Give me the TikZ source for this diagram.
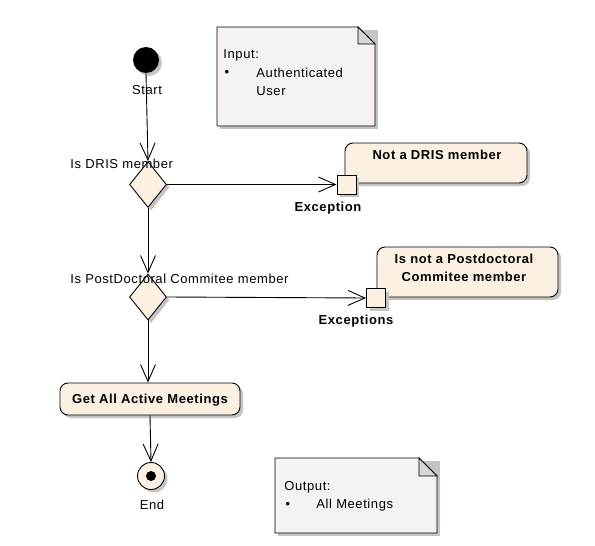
\documentclass[tikz,border=0pt]{standalone}
\usepackage{fontspec}
\setmainfont[LetterSpace=4.5]{Liberation Sans}
\usetikzlibrary{arrows.meta,shapes.geometric,shadows}
\definecolor{actfill}{HTML}{FBF0E1}
\definecolor{notefill}{HTML}{F5F1F5}
\definecolor{shadowgray}{HTML}{C4C4C4}
\definecolor{foldgray}{HTML}{D6D6D6}
\begin{document}
\begin{tikzpicture}[x=1pt,y=-1pt,
  font=\fontsize{13}{15}\selectfont,
  line width=0.9pt,
  sh/.style={drop shadow={shadow xshift=3pt,shadow yshift=-3pt,fill=shadowgray,opacity=1}},
  arr/.style={-{Straight Barb[length=17pt,width=15pt,line width=0.9pt]}},
  actbox/.style={draw,rounded corners=8pt,fill=actfill,sh,inner sep=0pt},
  decision/.style={diamond,draw,fill=actfill,sh,inner sep=0pt,minimum width=37pt,minimum height=46pt},
  pin/.style={rectangle,draw,fill=actfill,sh,inner sep=0pt,minimum size=19pt},
  txt/.style={inner sep=0pt},
  btxt/.style={inner sep=0pt,font=\fontsize{13}{18}\selectfont\bfseries,align=center}
  ]
\useasboundingbox (0,0) rectangle (595,546);

% Input note
\fill[shadowgray] (220,30) -- (378,30) -- (378,129) -- (220,129) -- cycle;
\filldraw[fill=notefill] (217,27) -- (358,27) -- (375,44) -- (375,126) -- (217,126) -- cycle;
\filldraw[fill=foldgray] (358,27) -- (358,44) -- (375,44) -- cycle;
\node[txt,anchor=west] (inlab) at (223,55) {Input:};
\node[txt] (inbul) at (227,73) {•};
\node[txt,anchor=west] (in1) at (256,73) {Authenticated};
\node[txt,anchor=west] (in2) at (256,91) {User};

% Output note
\fill[shadowgray] (278,461) -- (440,461) -- (440,536) -- (278,536) -- cycle;
\filldraw[fill=notefill] (275,458) -- (419,458) -- (437,476) -- (437,533) -- (275,533) -- cycle;
\filldraw[fill=foldgray] (419,458) -- (419,476) -- (437,476) -- cycle;
\node[txt,anchor=west] (outlab) at (284,487) {Output:};
\node[txt] (outbul) at (288,505) {•};
\node[txt,anchor=west] (out1) at (316,505) {All Meetings};

% Start
\node[circle,fill=black,sh,minimum size=26pt,inner sep=0pt] (start) at (146,60) {};
\node[txt] (startlab) at (147,90) {Start};

% Decision 1
\node[decision] (d1) at (148,184.5) {};
\node[txt,anchor=west] (d1lab) at (70,164) {Is DRIS member};

% Action 1 and its pin
\node[actbox,minimum width=182pt,minimum height=40pt] (act1) at (436,163) {};
\node[btxt] (act1t) at (437,155) {Not a DRIS member};
\node[pin] (ex1) at (346.5,184.5) {};
\node[btxt] (ex1lab) at (328,208) {Exception};

% Decision 2
\node[decision] (d2) at (148,297) {};
\node[txt,anchor=west] (d2lab) at (70,279) {Is PostDoctoral Commitee member};

% Action 2 and its pin
\node[actbox,minimum width=181pt,minimum height=50pt] (act2) at (467.5,272) {};
\node[btxt] (act2t) at (464,268) {Is not a Postdoctoral\\Commitee member};
\node[pin] (ex2) at (376,298) {};
\node[btxt] (ex2lab) at (356,321) {Exceptions};

% Action 3
\node[actbox,minimum width=180pt,minimum height=32pt] (act3) at (150,399) {};
\node[btxt] (act3t) at (150,400) {Get All Active Meetings};

% End
\node[circle,draw,fill=actfill,sh,minimum size=27pt,inner sep=0pt] (end) at (151,476) {};
\node[circle,fill=black,minimum size=10pt,inner sep=0pt] (enddot) at (end.center) {};
\node[txt] (endlab) at (152,505) {End};

% Connectors
\draw[arr] (start.south) -- (d1.north);
\draw[arr] (d1.east) -- (ex1.west);
\draw[arr] (d1.south) -- (d2.north);
\draw[arr] (d2.east) -- (ex2.west);
\draw[arr] (d2.south) -- (act3.north -| d2.south);
\draw[arr] (act3.south) -- (end.north);
\end{tikzpicture}
\end{document}
